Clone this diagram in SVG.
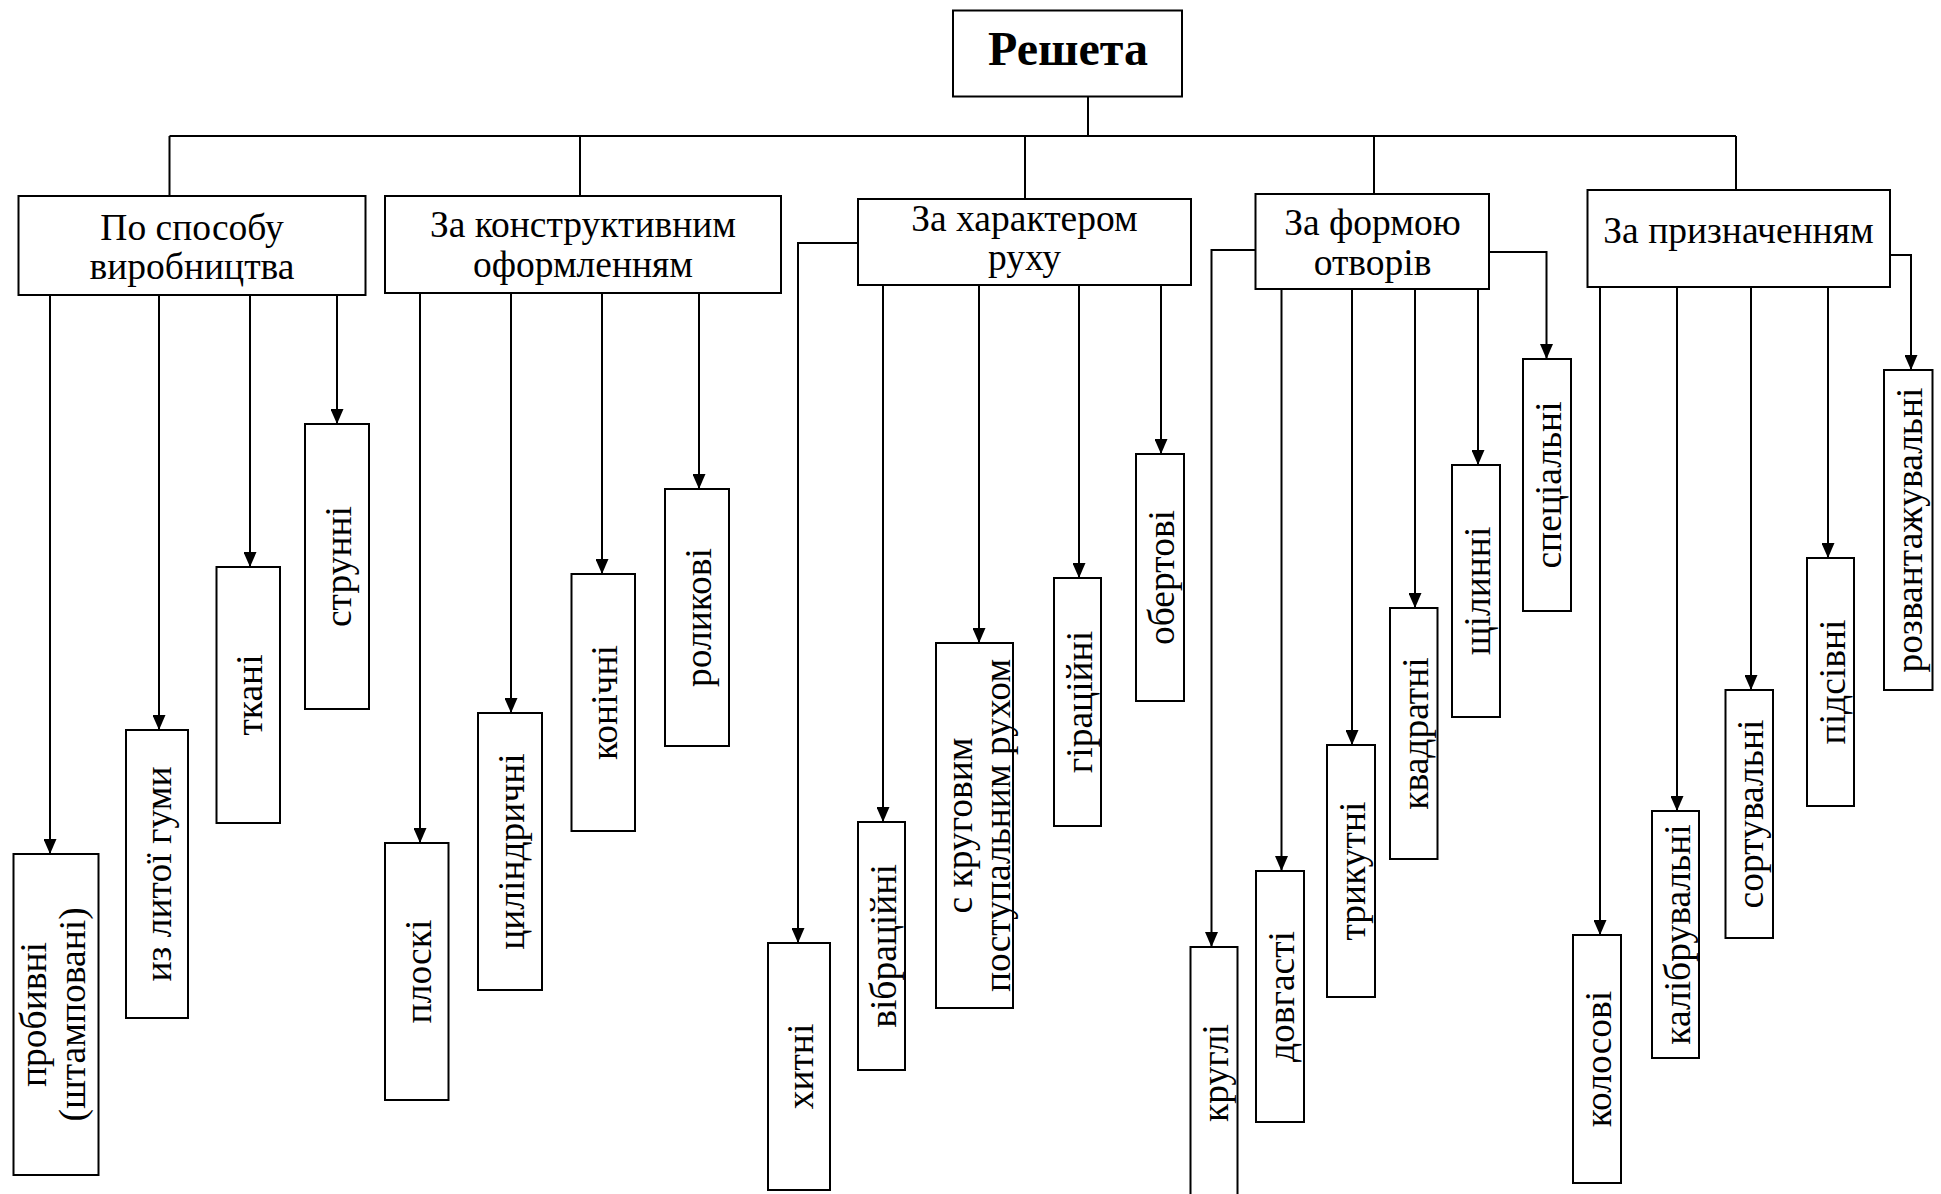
<svg xmlns="http://www.w3.org/2000/svg" width="1941" height="1194" viewBox="0 0 1941 1194">
<style>
.bx{fill:#fff;stroke:#000;stroke-width:2}
.ln{fill:none;stroke:#000;stroke-width:2}
.ar{fill:none;stroke:#000;stroke-width:2;marker-end:url(#arr)}
text{font-family:"Liberation Serif","Times New Roman",serif;fill:#000;text-anchor:middle}
.h{font-size:37.5px}
.l{font-size:37.5px}
.r{font-size:48px;font-weight:bold}
</style>
<defs>
<marker id="arr" markerUnits="userSpaceOnUse" markerWidth="15" markerHeight="13" refX="15" refY="6.5" orient="auto">
<path d="M0,0 L15,6.5 L0,13 z" fill="#000"/>
</marker>
</defs>
<rect width="1941" height="1194" fill="#fff"/>

<g id="connectors">
<path class="ln" d="M1088,97 V136 M169.5,136 H1736 M169.5,136 V196 M580,136 V196 M1025,136 V199 M1374,136 V194 M1736,136 V190"/>
<line class="ar" x1="50" y1="295" x2="50" y2="854"/>
<line class="ar" x1="159" y1="295" x2="159" y2="730"/>
<line class="ar" x1="250" y1="295" x2="250" y2="567"/>
<line class="ar" x1="337" y1="295" x2="337" y2="424"/>
<line class="ar" x1="420" y1="293" x2="420" y2="843"/>
<line class="ar" x1="511" y1="293" x2="511" y2="713"/>
<line class="ar" x1="602" y1="293" x2="602" y2="574"/>
<line class="ar" x1="699" y1="293" x2="699" y2="489"/>
<polyline class="ar" points="858,243 798,243 798,943"/>
<line class="ar" x1="883" y1="285" x2="883" y2="822"/>
<line class="ar" x1="979" y1="285" x2="979" y2="643"/>
<line class="ar" x1="1079" y1="285" x2="1079" y2="578"/>
<line class="ar" x1="1161" y1="285" x2="1161" y2="454"/>
<polyline class="ar" points="1255.5,250 1211.5,250 1211.5,947"/>
<line class="ar" x1="1281.5" y1="289" x2="1281.5" y2="871"/>
<line class="ar" x1="1352" y1="289" x2="1352" y2="745"/>
<line class="ar" x1="1415" y1="289" x2="1415" y2="608"/>
<line class="ar" x1="1478" y1="289" x2="1478" y2="465"/>
<polyline class="ar" points="1489,252 1546.5,252 1546.5,359"/>
<line class="ar" x1="1600" y1="287" x2="1600" y2="935"/>
<line class="ar" x1="1677" y1="287" x2="1677" y2="811"/>
<line class="ar" x1="1751" y1="287" x2="1751" y2="690"/>
<line class="ar" x1="1828" y1="287" x2="1828" y2="558"/>
<polyline class="ar" points="1890,255 1911,255 1911,370"/>
</g>

<g id="root"><rect class="bx" x="953" y="10.5" width="229" height="86"/><text class="r" x="1068" y="65">Решета</text></g>

<g id="c1"><rect class="bx" x="18.5" y="196" width="347" height="99"/><text class="h" x="192" y="239.5">По способу</text><text class="h" x="192" y="278.5">виробництва</text></g>
<g id="c2"><rect class="bx" x="385" y="196" width="396" height="97"/><text class="h" x="583" y="237">За конструктивним</text><text class="h" x="583" y="276.5">оформленням</text></g>
<g id="c3"><rect class="bx" x="858" y="199" width="333" height="86"/><text class="h" x="1024.5" y="231">За характером</text><text class="h" x="1024.5" y="270">руху</text></g>
<g id="c4"><rect class="bx" x="1255.5" y="194" width="233.5" height="95"/><text class="h" x="1372.5" y="235">За формою</text><text class="h" x="1372.5" y="275">отворів</text></g>
<g id="c5"><rect class="bx" x="1587.5" y="190" width="302.5" height="97"/><text class="h" x="1738.5" y="243">За призначенням</text></g>

<g id="l1"><rect class="bx" x="13.5" y="854" width="85" height="321"/><text class="l" transform="translate(56,1014.5) rotate(-90)" y="-9.7">пробивні</text><text class="l" transform="translate(56,1014.5) rotate(-90)" y="28.7">(штамповані)</text></g>
<g id="l2"><rect class="bx" x="126" y="730" width="62" height="288"/><text class="l" transform="translate(157,874) rotate(-90)" y="14">из литої гуми</text></g>
<g id="l3"><rect class="bx" x="216.5" y="567" width="63.5" height="256"/><text class="l" transform="translate(248.3,695) rotate(-90)" y="14">ткані</text></g>
<g id="l4"><rect class="bx" x="305" y="424" width="64" height="285"/><text class="l" transform="translate(337,566.5) rotate(-90)" y="14">струнні</text></g>

<g id="l5"><rect class="bx" x="385" y="843" width="63.5" height="257"/><text class="l" transform="translate(416.7,971.5) rotate(-90)" y="14">плоскі</text></g>
<g id="l6"><rect class="bx" x="478" y="713" width="64" height="277"/><text class="l" transform="translate(510,851.5) rotate(-90)" y="14">циліндричні</text></g>
<g id="l7"><rect class="bx" x="571.5" y="574" width="63.5" height="257"/><text class="l" transform="translate(603.3,702.5) rotate(-90)" y="14">конічні</text></g>
<g id="l8"><rect class="bx" x="665" y="489" width="64" height="257"/><text class="l" transform="translate(697,617.5) rotate(-90)" y="14">роликові</text></g>

<g id="l9"><rect class="bx" x="768" y="943" width="62" height="247"/><text class="l" transform="translate(799,1066.5) rotate(-90)" y="14">хитні</text></g>
<g id="l10"><rect class="bx" x="858" y="822" width="47" height="248"/><text class="l" transform="translate(881.5,946) rotate(-90)" y="14">вібраційні</text></g>
<g id="l11"><rect class="bx" x="936" y="643" width="77" height="365"/><text class="l" transform="translate(974.5,825.5) rotate(-90)" y="-2.8">с круговим</text><text class="l" transform="translate(974.5,825.5) rotate(-90)" y="35.5">поступальним рухом</text></g>
<g id="l12"><rect class="bx" x="1054" y="578" width="47" height="248"/><text class="l" transform="translate(1077.5,702) rotate(-90)" y="14">гіраційні</text></g>
<g id="l13"><rect class="bx" x="1136" y="454" width="48" height="247"/><text class="l" transform="translate(1160,577.5) rotate(-90)" y="14">обертові</text></g>

<g id="l14"><rect class="bx" x="1190.5" y="947" width="47" height="260"/><text class="l" transform="translate(1214,1073) rotate(-90)" y="14">круглі</text></g>
<g id="l15"><rect class="bx" x="1256" y="871" width="48" height="251"/><text class="l" transform="translate(1280,996.5) rotate(-90)" y="14">довгасті</text></g>
<g id="l16"><rect class="bx" x="1327" y="745" width="48" height="252"/><text class="l" transform="translate(1351,871) rotate(-90)" y="14">трикутні</text></g>
<g id="l17"><rect class="bx" x="1390" y="608" width="47.5" height="251"/><text class="l" transform="translate(1413.7,733.5) rotate(-90)" y="14">квадратні</text></g>
<g id="l18"><rect class="bx" x="1452" y="465" width="48" height="252"/><text class="l" transform="translate(1476,591) rotate(-90)" y="14">щілинні</text></g>
<g id="l19"><rect class="bx" x="1523" y="359" width="48" height="252"/><text class="l" transform="translate(1547,485) rotate(-90)" y="14">спеціальні</text></g>

<g id="l20"><rect class="bx" x="1573" y="935" width="48" height="248"/><text class="l" transform="translate(1597,1059) rotate(-90)" y="14">колосові</text></g>
<g id="l21"><rect class="bx" x="1652" y="811" width="47" height="247"/><text class="l" transform="translate(1675.5,934.5) rotate(-90)" y="14">калібрувальні</text></g>
<g id="l22"><rect class="bx" x="1725.5" y="690" width="47.5" height="248"/><text class="l" transform="translate(1749.2,814) rotate(-90)" y="14">сортувальні</text></g>
<g id="l23"><rect class="bx" x="1807" y="558" width="47" height="248"/><text class="l" transform="translate(1830.5,682) rotate(-90)" y="14">підсівні</text></g>
<g id="l24"><rect class="bx" x="1884" y="370" width="48.5" height="320"/><text class="l" transform="translate(1908.2,530) rotate(-90)" y="14">розвантажувальні</text></g>
</svg>
